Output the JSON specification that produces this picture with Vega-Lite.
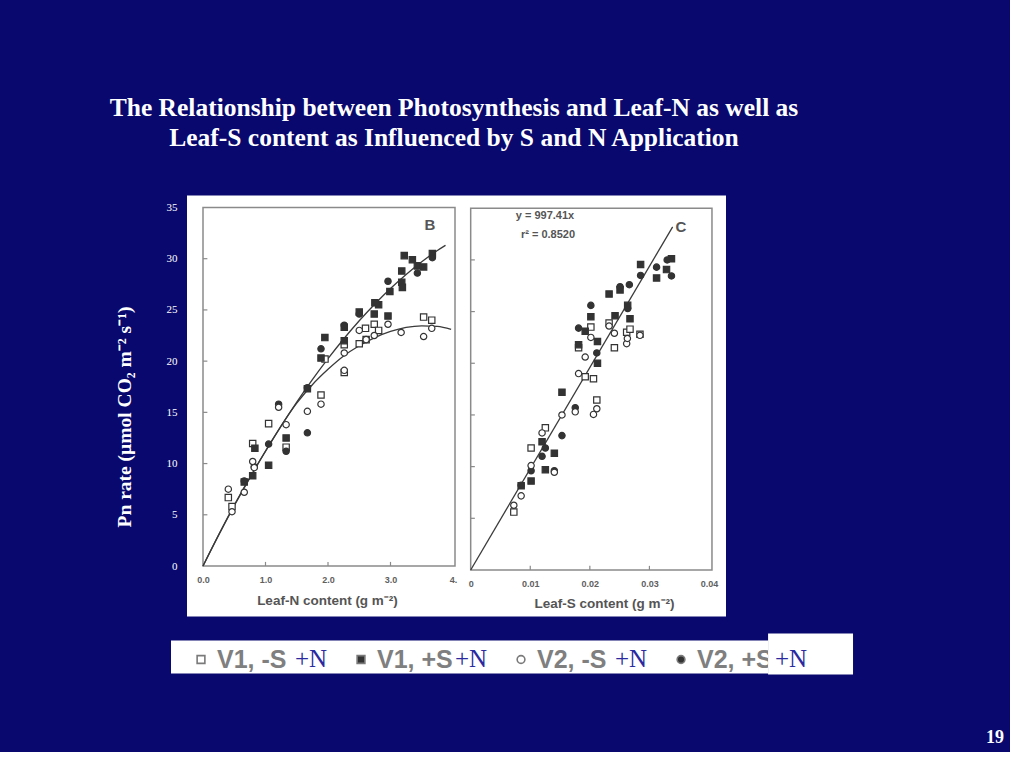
{
  "$schema": "https://vega.github.io/schema/vega-lite/v6.json",
  "background": "#08086e",
  "padding": {"left": 109, "top": 95.5, "right": 0, "bottom": 0},
  "config": {"view": {"stroke": null}, "axis": {"grid": false}},
  "title": {
    "text": ["The Relationship between Photosynthesis and Leaf-N as well as", "Leaf-S content  as Influenced by S and N Application"],
    "anchor": "start", "align": "center", "dx": 340, "offset": 44.5,
    "font": "Liberation Serif", "fontSize": 25.5, "fontWeight": "bold", "color": "white", "lineHeight": 30
  },
  "datasets": {
    "points": [
      {"panel": "B", "series": "V1, -S", "x": 0.405, "y": 6.68},
      {"panel": "B", "series": "V1, -S", "x": 0.464, "y": 5.8},
      {"panel": "B", "series": "V1, -S", "x": 0.795, "y": 11.96},
      {"panel": "B", "series": "V1, -S", "x": 1.05, "y": 13.9},
      {"panel": "B", "series": "V1, -S", "x": 1.33, "y": 11.6},
      {"panel": "B", "series": "V1, -S", "x": 1.888, "y": 16.7},
      {"panel": "B", "series": "V1, -S", "x": 1.952, "y": 20.2},
      {"panel": "B", "series": "V1, -S", "x": 2.26, "y": 18.9},
      {"panel": "B", "series": "V1, -S", "x": 2.26, "y": 21.6},
      {"panel": "B", "series": "V1, -S", "x": 2.5, "y": 21.7},
      {"panel": "B", "series": "V1, -S", "x": 2.6, "y": 23.2},
      {"panel": "B", "series": "V1, -S", "x": 2.61, "y": 22.1},
      {"panel": "B", "series": "V1, -S", "x": 2.74, "y": 23.6},
      {"panel": "B", "series": "V1, -S", "x": 2.81, "y": 23.0},
      {"panel": "B", "series": "V1, -S", "x": 3.53, "y": 24.3},
      {"panel": "B", "series": "V1, -S", "x": 3.66, "y": 24.0},
      {"panel": "B", "series": "V1, +S", "x": 0.66, "y": 8.2},
      {"panel": "B", "series": "V1, +S", "x": 0.795, "y": 8.8},
      {"panel": "B", "series": "V1, +S", "x": 0.83, "y": 11.5},
      {"panel": "B", "series": "V1, +S", "x": 1.05, "y": 9.84},
      {"panel": "B", "series": "V1, +S", "x": 1.33, "y": 12.5},
      {"panel": "B", "series": "V1, +S", "x": 1.67, "y": 17.3},
      {"panel": "B", "series": "V1, +S", "x": 1.888, "y": 20.3},
      {"panel": "B", "series": "V1, +S", "x": 1.95, "y": 22.3},
      {"panel": "B", "series": "V1, +S", "x": 2.26, "y": 22.0},
      {"panel": "B", "series": "V1, +S", "x": 2.26, "y": 23.3},
      {"panel": "B", "series": "V1, +S", "x": 2.5, "y": 24.8},
      {"panel": "B", "series": "V1, +S", "x": 2.74, "y": 24.6},
      {"panel": "B", "series": "V1, +S", "x": 2.81, "y": 25.5},
      {"panel": "B", "series": "V1, +S", "x": 2.75, "y": 25.7},
      {"panel": "B", "series": "V1, +S", "x": 2.96, "y": 24.4},
      {"panel": "B", "series": "V1, +S", "x": 2.99, "y": 26.8},
      {"panel": "B", "series": "V1, +S", "x": 3.18, "y": 28.8},
      {"panel": "B", "series": "V1, +S", "x": 3.18, "y": 27.7},
      {"panel": "B", "series": "V1, +S", "x": 3.19, "y": 27.2},
      {"panel": "B", "series": "V1, +S", "x": 3.22, "y": 30.3},
      {"panel": "B", "series": "V1, +S", "x": 3.35, "y": 29.9},
      {"panel": "B", "series": "V1, +S", "x": 3.43, "y": 29.3},
      {"panel": "B", "series": "V1, +S", "x": 3.53, "y": 29.2},
      {"panel": "B", "series": "V1, +S", "x": 3.67, "y": 30.5},
      {"panel": "B", "series": "V2, +S", "x": 0.66, "y": 8.3},
      {"panel": "B", "series": "V2, +S", "x": 0.82, "y": 9.7},
      {"panel": "B", "series": "V2, +S", "x": 1.05, "y": 11.9},
      {"panel": "B", "series": "V2, +S", "x": 1.21, "y": 15.8},
      {"panel": "B", "series": "V2, +S", "x": 1.33, "y": 11.2},
      {"panel": "B", "series": "V2, +S", "x": 1.67, "y": 17.4},
      {"panel": "B", "series": "V2, +S", "x": 1.67, "y": 13.0},
      {"panel": "B", "series": "V2, +S", "x": 1.888, "y": 21.2},
      {"panel": "B", "series": "V2, +S", "x": 2.26, "y": 23.5},
      {"panel": "B", "series": "V2, +S", "x": 2.5, "y": 24.6},
      {"panel": "B", "series": "V2, +S", "x": 2.96, "y": 27.8},
      {"panel": "B", "series": "V2, +S", "x": 2.77, "y": 25.7},
      {"panel": "B", "series": "V2, +S", "x": 3.43, "y": 28.6},
      {"panel": "B", "series": "V2, +S", "x": 3.67, "y": 30.1},
      {"panel": "B", "series": "V2, -S", "x": 0.405, "y": 7.5},
      {"panel": "B", "series": "V2, -S", "x": 0.464, "y": 5.3},
      {"panel": "B", "series": "V2, -S", "x": 0.66, "y": 7.2},
      {"panel": "B", "series": "V2, -S", "x": 0.795, "y": 10.2},
      {"panel": "B", "series": "V2, -S", "x": 0.82, "y": 9.6},
      {"panel": "B", "series": "V2, -S", "x": 1.21, "y": 15.5},
      {"panel": "B", "series": "V2, -S", "x": 1.33, "y": 13.8},
      {"panel": "B", "series": "V2, -S", "x": 1.67, "y": 15.1},
      {"panel": "B", "series": "V2, -S", "x": 1.888, "y": 15.8},
      {"panel": "B", "series": "V2, -S", "x": 2.26, "y": 20.8},
      {"panel": "B", "series": "V2, -S", "x": 2.26, "y": 19.1},
      {"panel": "B", "series": "V2, -S", "x": 2.5, "y": 23.0},
      {"panel": "B", "series": "V2, -S", "x": 2.61, "y": 22.1},
      {"panel": "B", "series": "V2, -S", "x": 2.74, "y": 22.5},
      {"panel": "B", "series": "V2, -S", "x": 2.96, "y": 23.6},
      {"panel": "B", "series": "V2, -S", "x": 3.17, "y": 22.8},
      {"panel": "B", "series": "V2, -S", "x": 3.53, "y": 22.4},
      {"panel": "B", "series": "V2, -S", "x": 3.66, "y": 23.2},
      {"panel": "C", "series": "V1, -S", "x": 0.00724, "y": 5.6},
      {"panel": "C", "series": "V1, -S", "x": 0.01014, "y": 11.8},
      {"panel": "C", "series": "V1, -S", "x": 0.01253, "y": 13.75},
      {"panel": "C", "series": "V1, -S", "x": 0.02017, "y": 23.5},
      {"panel": "C", "series": "V1, -S", "x": 0.01811, "y": 21.5},
      {"panel": "C", "series": "V1, -S", "x": 0.01922, "y": 18.7},
      {"panel": "C", "series": "V1, -S", "x": 0.02061, "y": 18.5},
      {"panel": "C", "series": "V1, -S", "x": 0.02117, "y": 16.45},
      {"panel": "C", "series": "V1, -S", "x": 0.02323, "y": 23.9},
      {"panel": "C", "series": "V1, -S", "x": 0.02412, "y": 21.5},
      {"panel": "C", "series": "V1, -S", "x": 0.02618, "y": 23.0},
      {"panel": "C", "series": "V1, -S", "x": 0.02674, "y": 23.3},
      {"panel": "C", "series": "V1, -S", "x": 0.02841, "y": 22.8},
      {"panel": "C", "series": "V1, +S", "x": 0.00847, "y": 8.15},
      {"panel": "C", "series": "V1, +S", "x": 0.01014, "y": 8.6},
      {"panel": "C", "series": "V1, +S", "x": 0.01198, "y": 12.4},
      {"panel": "C", "series": "V1, +S", "x": 0.01253, "y": 9.7},
      {"panel": "C", "series": "V1, +S", "x": 0.01404, "y": 11.3},
      {"panel": "C", "series": "V1, +S", "x": 0.01532, "y": 17.2},
      {"panel": "C", "series": "V1, +S", "x": 0.01811, "y": 21.8},
      {"panel": "C", "series": "V1, +S", "x": 0.01922, "y": 23.1},
      {"panel": "C", "series": "V1, +S", "x": 0.02017, "y": 24.5},
      {"panel": "C", "series": "V1, +S", "x": 0.02128, "y": 22.1},
      {"panel": "C", "series": "V1, +S", "x": 0.02128, "y": 20.0},
      {"panel": "C", "series": "V1, +S", "x": 0.02323, "y": 26.7},
      {"panel": "C", "series": "V1, +S", "x": 0.02423, "y": 24.6},
      {"panel": "C", "series": "V1, +S", "x": 0.02507, "y": 27.1},
      {"panel": "C", "series": "V1, +S", "x": 0.02635, "y": 25.6},
      {"panel": "C", "series": "V1, +S", "x": 0.02674, "y": 24.3},
      {"panel": "C", "series": "V1, +S", "x": 0.02852, "y": 29.55},
      {"panel": "C", "series": "V1, +S", "x": 0.0312, "y": 28.25},
      {"panel": "C", "series": "V1, +S", "x": 0.03287, "y": 29.06},
      {"panel": "C", "series": "V1, +S", "x": 0.0337, "y": 30.1},
      {"panel": "C", "series": "V2, +S", "x": 0.00847, "y": 8.2},
      {"panel": "C", "series": "V2, +S", "x": 0.01014, "y": 9.6},
      {"panel": "C", "series": "V2, +S", "x": 0.01198, "y": 11.0},
      {"panel": "C", "series": "V2, +S", "x": 0.01253, "y": 11.8},
      {"panel": "C", "series": "V2, +S", "x": 0.01404, "y": 9.6},
      {"panel": "C", "series": "V2, +S", "x": 0.01532, "y": 13.0},
      {"panel": "C", "series": "V2, +S", "x": 0.01755, "y": 15.7},
      {"panel": "C", "series": "V2, +S", "x": 0.01811, "y": 23.4},
      {"panel": "C", "series": "V2, +S", "x": 0.02017, "y": 25.6},
      {"panel": "C", "series": "V2, +S", "x": 0.02117, "y": 21.0},
      {"panel": "C", "series": "V2, +S", "x": 0.02507, "y": 27.4},
      {"panel": "C", "series": "V2, +S", "x": 0.02663, "y": 27.6},
      {"panel": "C", "series": "V2, +S", "x": 0.02635, "y": 25.3},
      {"panel": "C", "series": "V2, +S", "x": 0.02852, "y": 28.5},
      {"panel": "C", "series": "V2, +S", "x": 0.0312, "y": 29.3},
      {"panel": "C", "series": "V2, +S", "x": 0.03298, "y": 30.0},
      {"panel": "C", "series": "V2, +S", "x": 0.0337, "y": 28.45},
      {"panel": "C", "series": "V2, -S", "x": 0.00724, "y": 6.26},
      {"panel": "C", "series": "V2, -S", "x": 0.00847, "y": 7.17},
      {"panel": "C", "series": "V2, -S", "x": 0.01014, "y": 10.1},
      {"panel": "C", "series": "V2, -S", "x": 0.01198, "y": 13.26},
      {"panel": "C", "series": "V2, -S", "x": 0.01404, "y": 9.45},
      {"panel": "C", "series": "V2, -S", "x": 0.01532, "y": 15.0},
      {"panel": "C", "series": "V2, -S", "x": 0.01755, "y": 15.3},
      {"panel": "C", "series": "V2, -S", "x": 0.01811, "y": 19.0},
      {"panel": "C", "series": "V2, -S", "x": 0.01922, "y": 20.6},
      {"panel": "C", "series": "V2, -S", "x": 0.02017, "y": 22.5},
      {"panel": "C", "series": "V2, -S", "x": 0.02061, "y": 15.05},
      {"panel": "C", "series": "V2, -S", "x": 0.02117, "y": 15.6},
      {"panel": "C", "series": "V2, -S", "x": 0.02323, "y": 23.6},
      {"panel": "C", "series": "V2, -S", "x": 0.02412, "y": 22.9},
      {"panel": "C", "series": "V2, -S", "x": 0.02618, "y": 21.9},
      {"panel": "C", "series": "V2, -S", "x": 0.0263, "y": 22.4},
      {"panel": "C", "series": "V2, -S", "x": 0.02841, "y": 22.7}
    ],
    "curves": [
      {"panel": "B", "curve": "+S", "x": 0, "y": 0},
      {"panel": "B", "curve": "+S", "x": 0.25, "y": 3.01},
      {"panel": "B", "curve": "+S", "x": 0.5, "y": 5.88},
      {"panel": "B", "curve": "+S", "x": 0.75, "y": 8.61},
      {"panel": "B", "curve": "+S", "x": 1.0, "y": 11.21},
      {"panel": "B", "curve": "+S", "x": 1.25, "y": 13.67},
      {"panel": "B", "curve": "+S", "x": 1.5, "y": 16.0},
      {"panel": "B", "curve": "+S", "x": 1.75, "y": 18.19},
      {"panel": "B", "curve": "+S", "x": 2.0, "y": 20.24},
      {"panel": "B", "curve": "+S", "x": 2.25, "y": 22.16},
      {"panel": "B", "curve": "+S", "x": 2.5, "y": 23.94},
      {"panel": "B", "curve": "+S", "x": 2.75, "y": 25.58},
      {"panel": "B", "curve": "+S", "x": 3.0, "y": 27.09},
      {"panel": "B", "curve": "+S", "x": 3.25, "y": 28.46},
      {"panel": "B", "curve": "+S", "x": 3.5, "y": 29.7},
      {"panel": "B", "curve": "+S", "x": 3.75, "y": 30.8},
      {"panel": "B", "curve": "+S", "x": 3.88, "y": 31.31},
      {"panel": "B", "curve": "-S", "x": 0, "y": 0},
      {"panel": "B", "curve": "-S", "x": 0.5, "y": 5.95},
      {"panel": "B", "curve": "-S", "x": 1.0, "y": 11.2},
      {"panel": "B", "curve": "-S", "x": 1.5, "y": 15.9},
      {"panel": "B", "curve": "-S", "x": 1.75, "y": 17.7},
      {"panel": "B", "curve": "-S", "x": 2.0, "y": 19.2},
      {"panel": "B", "curve": "-S", "x": 2.25, "y": 20.5},
      {"panel": "B", "curve": "-S", "x": 2.5, "y": 21.5},
      {"panel": "B", "curve": "-S", "x": 2.75, "y": 22.3},
      {"panel": "B", "curve": "-S", "x": 3.0, "y": 22.9},
      {"panel": "B", "curve": "-S", "x": 3.25, "y": 23.3},
      {"panel": "B", "curve": "-S", "x": 3.5, "y": 23.45},
      {"panel": "B", "curve": "-S", "x": 3.75, "y": 23.4},
      {"panel": "B", "curve": "-S", "x": 3.97, "y": 23.1},
      {"panel": "C", "curve": "fit", "x": 0, "y": 0},
      {"panel": "C", "curve": "fit", "x": 0.0339, "y": 33.2}
    ],
    "legend": [
      {"series": "V1, -S", "slot": 0, "extra": "+N"},
      {"series": "V1, +S", "slot": 1, "extra": "+N"},
      {"series": "V2, -S", "slot": 2, "extra": "+N"},
      {"series": "V2, +S", "slot": 3, "extra": "+N"}
    ]
  },
  "spacing": 10,
  "vconcat": [
    {
      "spacing": 0,
      "hconcat": [
        {
          "width": 276, "height": 421,
          "view": {"fill": "white", "stroke": null},
          "layer": [
            {
              "data": {"values": [{}]},
              "mark": {"type": "rect", "fill": "transparent", "stroke": "#8a8a8a", "strokeWidth": 1.5},
              "encoding": {
                "x": {"datum": 0, "type": "quantitative", "scale": {"domain": [-0.256, 4.16], "nice": false, "zero": false}},
                "x2": {"datum": 4.032},
                "y": {"datum": 0, "type": "quantitative", "scale": {"domain": [-4.93, 36.17], "nice": false, "zero": false}},
                "y2": {"datum": 35}
              }
            },
            {
              "data": {"values": [{"v": 5}, {"v": 10}, {"v": 15}, {"v": 20}, {"v": 25}, {"v": 30}]},
              "mark": {"type": "rule", "color": "#8a8a8a", "strokeWidth": 1.2},
              "encoding": {
                "y": {"field": "v", "type": "quantitative", "scale": {"domain": [-4.93, 36.17], "nice": false, "zero": false}},
                "x": {"datum": 0, "type": "quantitative", "scale": {"domain": [-0.256, 4.16], "nice": false, "zero": false}},
                "x2": {"datum": 0.07}
              }
            },
            {
              "data": {"values": [{"v": 1}, {"v": 2}, {"v": 3}]},
              "mark": {"type": "rule", "color": "#8a8a8a", "strokeWidth": 1.2},
              "encoding": {
                "x": {"field": "v", "type": "quantitative", "scale": {"domain": [-0.256, 4.16], "nice": false, "zero": false}},
                "y": {"datum": 0, "type": "quantitative", "scale": {"domain": [-4.93, 36.17], "nice": false, "zero": false}},
                "y2": {"datum": 0.4}
              }
            },
            {
              "data": {"name": "curves"},
              "transform": [{"filter": "datum.panel == 'B'"}],
              "mark": {"type": "line", "color": "#3a3a3a", "strokeWidth": 1.3, "interpolate": "monotone"},
              "encoding": {
                "x": {"field": "x", "type": "quantitative", "scale": {"domain": [-0.256, 4.16], "nice": false, "zero": false}},
                "y": {"field": "y", "type": "quantitative", "scale": {"domain": [-4.93, 36.17], "nice": false, "zero": false}},
                "detail": {"field": "curve"}
              }
            },
            {
              "data": {"name": "points"},
              "transform": [{"filter": "datum.panel == 'B'"}],
              "mark": {"type": "point", "filled": true, "stroke": "#333333", "strokeWidth": 1.2, "size": 40, "opacity": 1},
              "encoding": {
                "x": {"field": "x", "type": "quantitative", "scale": {"domain": [-0.256, 4.16], "nice": false, "zero": false},
                  "axis": {"orient": "bottom", "offset": -50.5, "values": [0, 1, 2, 3, 4], "labelExpr": "datum.value == 4 ? '4.' : format(datum.value, '.1f')", "domain": false, "ticks": false, "tickSize": 0, "labelPadding": 9, "labelFont": "Liberation Sans", "labelFontWeight": "bold", "labelFontSize": 9, "labelColor": "#606060", "labelFlush": false, "labelOverlap": false, "title": "Leaf-N content (g m⁻²)", "titleFont": "Liberation Sans", "titleFontSize": 13.5, "titleFontWeight": "bold", "titleColor": "#555555", "titlePadding": 9, "titleX": 140}},
                "y": {"field": "y", "type": "quantitative", "scale": {"domain": [-4.93, 36.17], "nice": false, "zero": false},
                  "axis": {"orient": "left", "values": [0, 5, 10, 15, 20, 25, 30, 35], "domain": false, "ticks": false, "tickSize": 0, "labelPadding": 10, "labelFont": "Liberation Serif", "labelFontSize": 11, "labelColor": "white", "labelOverlap": false, "labelFlush": false, "title": "Pn rate (µmol CO₂ m⁻² s⁻¹)", "titleFont": "Liberation Serif", "titleFontSize": 19.5, "titleFontWeight": "bold", "titleColor": "white", "titlePadding": 32, "titleY": 221}},
                "shape": {"field": "series", "type": "nominal", "scale": {"domain": ["V1, -S", "V1, +S", "V2, -S", "V2, +S"], "range": ["square", "square", "circle", "circle"]}, "legend": null},
                "fill": {"field": "series", "type": "nominal", "scale": {"domain": ["V1, -S", "V1, +S", "V2, -S", "V2, +S"], "range": ["white", "#333333", "white", "#333333"]}, "legend": null}
              }
            },
            {
              "data": {"values": [{"t": "B"}]},
              "mark": {"type": "text", "font": "Liberation Sans", "fontWeight": "bold", "fontSize": 15, "color": "#555555"},
              "encoding": {
                "x": {"datum": 3.632, "type": "quantitative", "scale": {"domain": [-0.256, 4.16], "nice": false, "zero": false}},
                "y": {"datum": 33.25, "type": "quantitative", "scale": {"domain": [-4.93, 36.17], "nice": false, "zero": false}},
                "text": {"field": "t"}
              }
            }
          ]
        },
        {
          "width": 263, "height": 421,
          "view": {"fill": "white", "stroke": null},
          "layer": [
            {
              "data": {"values": [{}]},
              "mark": {"type": "rect", "fill": "transparent", "stroke": "#8a8a8a", "strokeWidth": 1.5},
              "encoding": {
                "x": {"datum": 0, "type": "quantitative", "scale": {"domain": [-0.00129, 0.042854], "nice": false, "zero": false}},
                "x2": {"datum": 0.0405},
                "y": {"datum": 0, "type": "quantitative", "scale": {"domain": [-4.5, 36.23], "nice": false, "zero": false}, "axis": null},
                "y2": {"datum": 35}
              }
            },
            {
              "data": {"values": [{"v": 5}, {"v": 10}, {"v": 15}, {"v": 20}, {"v": 25}, {"v": 30}]},
              "mark": {"type": "rule", "color": "#8a8a8a", "strokeWidth": 1.2},
              "encoding": {
                "y": {"field": "v", "type": "quantitative", "scale": {"domain": [-4.5, 36.23], "nice": false, "zero": false}, "axis": null},
                "x": {"datum": 0, "type": "quantitative", "scale": {"domain": [-0.00129, 0.042854], "nice": false, "zero": false}},
                "x2": {"datum": 0.0007}
              }
            },
            {
              "data": {"values": [{"v": 0.01}, {"v": 0.02}, {"v": 0.03}]},
              "mark": {"type": "rule", "color": "#8a8a8a", "strokeWidth": 1.2},
              "encoding": {
                "x": {"field": "v", "type": "quantitative", "scale": {"domain": [-0.00129, 0.042854], "nice": false, "zero": false}},
                "y": {"datum": 0, "type": "quantitative", "scale": {"domain": [-4.5, 36.23], "nice": false, "zero": false}, "axis": null},
                "y2": {"datum": 0.4}
              }
            },
            {
              "data": {"name": "curves"},
              "transform": [{"filter": "datum.panel == 'C'"}],
              "mark": {"type": "line", "color": "#3a3a3a", "strokeWidth": 1.3},
              "encoding": {
                "x": {"field": "x", "type": "quantitative", "scale": {"domain": [-0.00129, 0.042854], "nice": false, "zero": false}},
                "y": {"field": "y", "type": "quantitative", "scale": {"domain": [-4.5, 36.23], "nice": false, "zero": false}, "axis": null}
              }
            },
            {
              "data": {"name": "points"},
              "transform": [{"filter": "datum.panel == 'C'"}],
              "mark": {"type": "point", "filled": true, "stroke": "#333333", "strokeWidth": 1.2, "size": 40, "opacity": 1},
              "encoding": {
                "x": {"field": "x", "type": "quantitative", "scale": {"domain": [-0.00129, 0.042854], "nice": false, "zero": false},
                  "axis": {"orient": "bottom", "offset": -46.5, "values": [0, 0.01, 0.02, 0.03, 0.04], "labelExpr": "datum.value == 0 ? '0' : format(datum.value, '.2f')", "domain": false, "ticks": false, "tickSize": 0, "labelPadding": 9, "labelFont": "Liberation Sans", "labelFontWeight": "bold", "labelFontSize": 9, "labelColor": "#606060", "labelFlush": false, "labelOverlap": false, "title": "Leaf-S content (g m⁻²)", "titleFont": "Liberation Sans", "titleFontSize": 13.5, "titleFontWeight": "bold", "titleColor": "#555555", "titlePadding": 8, "titleX": 141}},
                "y": {"field": "y", "type": "quantitative", "scale": {"domain": [-4.5, 36.23], "nice": false, "zero": false}, "axis": null},
                "shape": {"field": "series", "type": "nominal", "scale": {"domain": ["V1, -S", "V1, +S", "V2, -S", "V2, +S"], "range": ["square", "square", "circle", "circle"]}, "legend": null},
                "fill": {"field": "series", "type": "nominal", "scale": {"domain": ["V1, -S", "V1, +S", "V2, -S", "V2, +S"], "range": ["white", "#333333", "white", "#333333"]}, "legend": null}
              }
            },
            {
              "data": {"values": [{"t": "C", "px": 0.0353, "py": 33.15, "s": 15}, {"t": "y = 997.41x", "px": 0.01247, "py": 34.23, "s": 11}, {"t": "r² = 0.8520", "px": 0.01298, "py": 32.37, "s": 11}]},
              "mark": {"type": "text", "font": "Liberation Sans", "fontWeight": "bold", "color": "#555555"},
              "encoding": {
                "x": {"field": "px", "type": "quantitative", "scale": {"domain": [-0.00129, 0.042854], "nice": false, "zero": false}},
                "y": {"field": "py", "type": "quantitative", "scale": {"domain": [-4.5, 36.23], "nice": false, "zero": false}, "axis": null},
                "size": {"field": "s", "type": "quantitative", "scale": null},
                "text": {"field": "t"}
              }
            }
          ]
        }
      ]
    },
    {
      "width": 823, "height": 125,
      "view": {"fill": null, "stroke": null},
      "layer": [
        {
          "data": {"values": [{}]},
          "mark": {"type": "rect", "fill": "white"},
          "encoding": {
            "x": {"datum": -0.1875, "type": "quantitative", "scale": {"domain": [-0.0875, 5.056], "nice": false, "zero": false}, "axis": null},
            "x2": {"datum": 3.544},
            "y": {"datum": -14, "type": "quantitative", "scale": {"domain": [-92, 33], "nice": false, "zero": false}, "axis": null},
            "y2": {"datum": 19}
          }
        },
        {
          "data": {"name": "legend"},
          "mark": {"type": "point", "filled": true, "stroke": "#7a7a7a", "strokeWidth": 1.6, "size": 60, "opacity": 1},
          "encoding": {
            "x": {"field": "slot", "type": "quantitative", "scale": {"domain": [-0.0875, 5.056], "nice": false, "zero": false}, "axis": null},
            "y": {"datum": 0, "type": "quantitative", "scale": {"domain": [-92, 33], "nice": false, "zero": false}, "axis": null},
            "shape": {"field": "series", "type": "nominal", "scale": {"domain": ["V1, -S", "V1, +S", "V2, -S", "V2, +S"], "range": ["square", "square", "circle", "circle"]}, "legend": null},
            "fill": {"field": "series", "type": "nominal", "scale": {"domain": ["V1, -S", "V1, +S", "V2, -S", "V2, +S"], "range": ["white", "#7a7a7a", "white", "#7a7a7a"]}, "legend": null}
          }
        },
        {
          "data": {"name": "legend"},
          "mark": {"type": "text", "align": "left", "baseline": "middle", "dx": 16, "font": "Liberation Sans", "fontWeight": "bold", "fontSize": 25, "color": "#7f7f7f"},
          "encoding": {
            "x": {"field": "slot", "type": "quantitative", "scale": {"domain": [-0.0875, 5.056], "nice": false, "zero": false}, "axis": null},
            "y": {"datum": 0, "type": "quantitative", "scale": {"domain": [-92, 33], "nice": false, "zero": false}, "axis": null},
            "text": {"field": "series"}
          }
        },
        {
          "data": {"values": [{}]},
          "mark": {"type": "rect", "fill": "white"},
          "encoding": {
            "x": {"datum": 3.544, "type": "quantitative", "scale": {"domain": [-0.0875, 5.056], "nice": false, "zero": false}, "axis": null},
            "x2": {"datum": 4.075},
            "y": {"datum": -15, "type": "quantitative", "scale": {"domain": [-92, 33], "nice": false, "zero": false}, "axis": null},
            "y2": {"datum": 26}
          }
        },
        {
          "data": {"name": "legend"},
          "mark": {"type": "text", "align": "left", "baseline": "middle", "dx": 94, "dy": -1, "font": "Liberation Serif", "fontSize": 25, "color": "#2a2aa0"},
          "encoding": {
            "x": {"field": "slot", "type": "quantitative", "scale": {"domain": [-0.0875, 5.056], "nice": false, "zero": false}, "axis": null},
            "y": {"datum": 0, "type": "quantitative", "scale": {"domain": [-92, 33], "nice": false, "zero": false}, "axis": null},
            "text": {"field": "extra"}
          }
        },
        {
          "data": {"values": [{"t": "19"}]},
          "mark": {"type": "text", "font": "Liberation Serif", "fontWeight": "bold", "fontSize": 18, "color": "white"},
          "encoding": {
            "x": {"datum": 4.9625, "type": "quantitative", "scale": {"domain": [-0.0875, 5.056], "nice": false, "zero": false}, "axis": null},
            "y": {"datum": -78, "type": "quantitative", "scale": {"domain": [-92, 33], "nice": false, "zero": false}, "axis": null},
            "text": {"field": "t"}
          }
        }
      ]
    }
  ]
}
